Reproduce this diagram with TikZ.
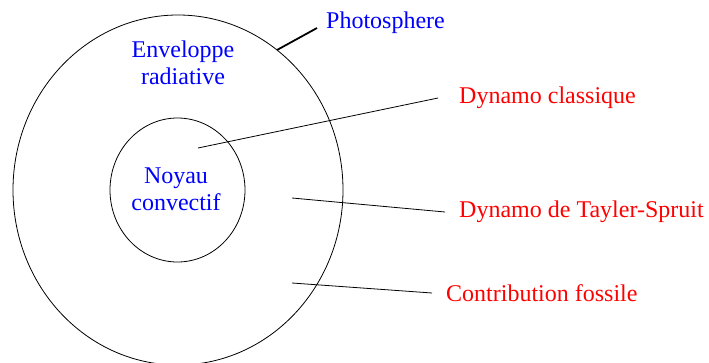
\documentclass[tikz,border=0pt]{standalone}
\usepackage{fontspec}
\setmainfont{Liberation Serif}
\usepackage{tikz}
\usetikzlibrary{
  positioning,
  shapes.geometric
}
\definecolor{labelblue}{RGB}{0,0,255}
\definecolor{labelred}{RGB}{255,0,0}

\begin{document}
\begin{tikzpicture}[x=1pt, y=-1pt,
            shell/.style={ellipse, draw=black, line width=0.8pt, inner sep=0pt},
            zone/.style={text=labelblue, font=\fontsize{24}{27}\selectfont, align=center, inner sep=0pt},
            dyn/.style={text=labelred, font=\fontsize{24}{27}\selectfont, inner sep=0pt, anchor=west},
            link/.style={draw=black, line width=0.8pt}]
            \useasboundingbox (0,0) rectangle (709,362);
            \node [shell, minimum width=330pt, minimum height=350pt] (star) at (178,190) {};
            \node [shell, minimum width=135pt, minimum height=144pt] (core) at (177.5,190) {};
            \node [zone] (env) at (183,63) {Enveloppe\\radiative};
            \node [zone] (noyau) at (176,189) {Noyau\\convectif};
            \node [zone, anchor=base west, inner xsep=9pt] (photo) at (317,28) {Photosphere};
            \node [dyn, inner xsep=21pt] (classique) at (438,98) {Dynamo classique};
            \node [dyn, inner xsep=14pt] (tayler) at (445,212) {Dynamo de Tayler-Spruit};
            \node [dyn, inner xsep=14pt] (fossile) at (432,293) {Contribution fossile};
            \coordinate (surf) at (277,50);
            \coordinate (pclass) at (198,148);
            \coordinate (ptayl) at (292,198);
            \coordinate (pfoss) at (292,283);

            \path [link, line width=1.8pt] (surf) -- (photo.base west);
            \path [link] (pclass) -- (classique.west);
            \path [link] (ptayl) -- (tayler.west);
            \path [link] (pfoss) -- (fossile.west);
        \end{tikzpicture}
\end{document}
